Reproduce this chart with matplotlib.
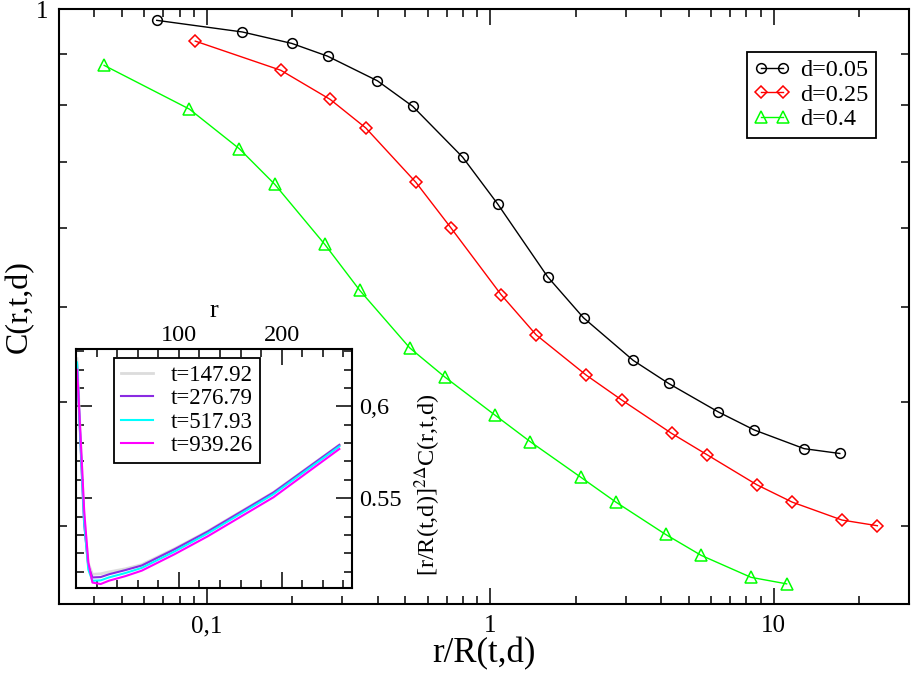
import matplotlib
matplotlib.use('Agg')
import matplotlib.pyplot as plt
from matplotlib.ticker import FixedLocator, FixedFormatter, NullFormatter, MultipleLocator

plt.rcParams['font.family'] = ['Liberation Serif', 'DejaVu Serif']
plt.rcParams['mathtext.fontset'] = 'stix'

# main panel: C(r,t,d) vs r/R(t,d)
d05_x = [0.0664, 0.133, 0.199, 0.266, 0.399, 0.532, 0.798, 1.06, 1.59, 2.13, 3.19, 4.25, 6.38, 8.53, 12.8, 17.1]
d05_y = [0.974, 0.948, 0.923, 0.896, 0.846, 0.797, 0.708, 0.635, 0.536, 0.487, 0.441, 0.418, 0.391, 0.375, 0.359, 0.355]
d25_x = [0.0908, 0.182, 0.272, 0.363, 0.545, 0.727, 1.09, 1.45, 2.18, 2.91, 4.36, 5.81, 8.72, 11.6, 17.4, 23.2]
d25_y = [0.928, 0.867, 0.810, 0.758, 0.668, 0.600, 0.514, 0.468, 0.426, 0.402, 0.372, 0.354, 0.330, 0.317, 0.304, 0.300]
d40_x = [0.0433, 0.0866, 0.130, 0.173, 0.260, 0.346, 0.519, 0.692, 1.04, 1.38, 2.08, 2.77, 4.15, 5.54, 8.31, 11.1]
d40_y = [0.877, 0.792, 0.722, 0.665, 0.578, 0.519, 0.454, 0.424, 0.388, 0.365, 0.336, 0.317, 0.294, 0.280, 0.266, 0.262]
main_labels = ['d=0.05', 'd=0.25', 'd=0.4']

# inset: scaled correlation vs r
r_in = [1, 2, 3, 4, 6, 8, 12, 16, 24, 32, 48, 64, 96, 128, 192, 256]
t148 = [0.626, 0.613, 0.600, 0.587, 0.562, 0.538, 0.5145, 0.5085, 0.5088, 0.5098, 0.5115, 0.5138, 0.5225, 0.5320, 0.5532, 0.5790]
t277 = [0.6235, 0.611, 0.598, 0.585, 0.560, 0.536, 0.513, 0.5068, 0.5070, 0.5085, 0.5108, 0.5133, 0.5222, 0.5318, 0.5531, 0.5790]
t518 = [0.624, 0.612, 0.599, 0.586, 0.561, 0.537, 0.511, 0.5050, 0.5052, 0.5068, 0.5092, 0.5120, 0.5210, 0.5308, 0.5522, 0.5782]
t939 = [0.620, 0.611, 0.600, 0.589, 0.566, 0.543, 0.515, 0.5040, 0.5032, 0.5050, 0.5075, 0.5105, 0.5195, 0.5292, 0.5505, 0.5768]
inset_labels = ['t=147.92', 't=276.79', 't=517.93', 't=939.26']

fig = plt.figure(figsize=(9.13, 6.74), dpi=100)
ax = fig.add_axes([0.0646, 0.1039, 0.931, 0.8827])

ax.plot(d05_x, d05_y, '-o', color='k', lw=1.0, ms=7, mfc='none', mew=1.1, label=main_labels[0])
ax.plot(d25_x, d25_y, '-D', color='#ff0000', lw=1.0, ms=6, mfc='none', mew=1.1, label=main_labels[1])
ax.plot(d40_x, d40_y, '-^', color='#00ff00', lw=1.0, ms=8, mfc='none', mew=1.1, label=main_labels[2])

ax.set_xscale('log')
ax.set_yscale('log')
ax.set_xlim(0.03, 30)
ax.set_ylim(0.25, 1.0)

ax.xaxis.set_major_locator(FixedLocator([0.1, 1, 10]))
ax.xaxis.set_major_formatter(FixedFormatter(['0,1', '1', '10']))
xminor = [0.03, 0.04, 0.05, 0.06, 0.07, 0.08, 0.09, 0.2, 0.3, 0.4, 0.5, 0.6, 0.7, 0.8, 0.9,
          2, 3, 4, 5, 6, 7, 8, 9, 20, 30]
ax.xaxis.set_minor_locator(FixedLocator(xminor))
ax.xaxis.set_minor_formatter(NullFormatter())
ax.yaxis.set_major_locator(FixedLocator([1.0]))
ax.yaxis.set_major_formatter(FixedFormatter(['1']))
ax.yaxis.set_minor_locator(FixedLocator([0.3, 0.4, 0.5, 0.6, 0.7, 0.8, 0.9]))
ax.yaxis.set_minor_formatter(NullFormatter())

ax.tick_params(which='both', direction='in', top=True, right=True, width=1.1, labelsize=18)
ax.tick_params(which='major', length=11.5, pad=8)
ax.tick_params(which='minor', length=5.8)
for s in ax.spines.values():
    s.set_linewidth(1.5)

ax.set_xlabel('r/R(t,d)', fontsize=25, labelpad=0)
ax.set_ylabel('C(r,t,d)', fontsize=23)
ax.yaxis.set_label_coords(-0.029, 0.5)

leg = ax.legend(loc='upper right', bbox_to_anchor=(0.9612, 0.9277), borderaxespad=0,
                numpoints=2, fontsize=17.5, handlelength=1.5, handletextpad=0.4,
                labelspacing=0.1, borderpad=0.3, fancybox=False, framealpha=1,
                edgecolor='k')
leg.get_frame().set_linewidth(1.3)

# inset
ax2 = fig.add_axes([0.0832, 0.1283, 0.302, 0.3539])
ax2.plot(r_in, t148, color='#dcdcdc', lw=2.0, label=inset_labels[0])
ax2.plot(r_in, t277, color='#8a2be2', lw=1.5, label=inset_labels[1])
ax2.plot(r_in, t518, color='#00ffff', lw=1.5, label=inset_labels[2])
ax2.plot(r_in, t939, color='#ff00ff', lw=1.5, label=inset_labels[3])
ax2.set_xlim(0, 268)
ax2.set_ylim(0.5013, 0.6313)

ax2.xaxis.set_major_locator(FixedLocator([100, 200]))
ax2.xaxis.set_minor_locator(MultipleLocator(20))
ax2.yaxis.set_major_locator(FixedLocator([0.55, 0.6]))
ax2.yaxis.set_major_formatter(FixedFormatter(['0.55', '0,6']))
ax2.yaxis.set_minor_locator(MultipleLocator(0.01))
ax2.tick_params(which='both', direction='in', top=True, bottom=True, left=True, right=True,
                labeltop=True, labelbottom=False, labelleft=False, labelright=True,
                width=1.1, labelsize=17.5)
ax2.tick_params(axis='x', which='major', length=11.5, pad=2)
ax2.tick_params(axis='y', which='major', length=11.5, pad=5)
ax2.tick_params(which='minor', length=5.8)
for s in ax2.spines.values():
    s.set_linewidth(1.5)
ax2.xaxis.set_label_position('top')
ax2.yaxis.set_label_position('right')
ax2.set_xlabel('r', fontsize=19)
ax2.xaxis.set_label_coords(0.5, 1.135)
ax2.set_ylabel(r'[r/R(t,d)]$^{2\Delta}$C(r,t,d)', fontsize=17.5)
ax2.yaxis.set_label_coords(1.222, 0.43)

leg2 = ax2.legend(loc='upper left', bbox_to_anchor=(0.1378, 0.9623), borderaxespad=0,
                  fontsize=16.5, handlelength=1.4, handletextpad=0.8, labelspacing=0.1,
                  borderpad=0.3, fancybox=False, framealpha=1, edgecolor='k')
leg2.get_frame().set_linewidth(1.3)

fig.savefig('out.png', dpi=100)
